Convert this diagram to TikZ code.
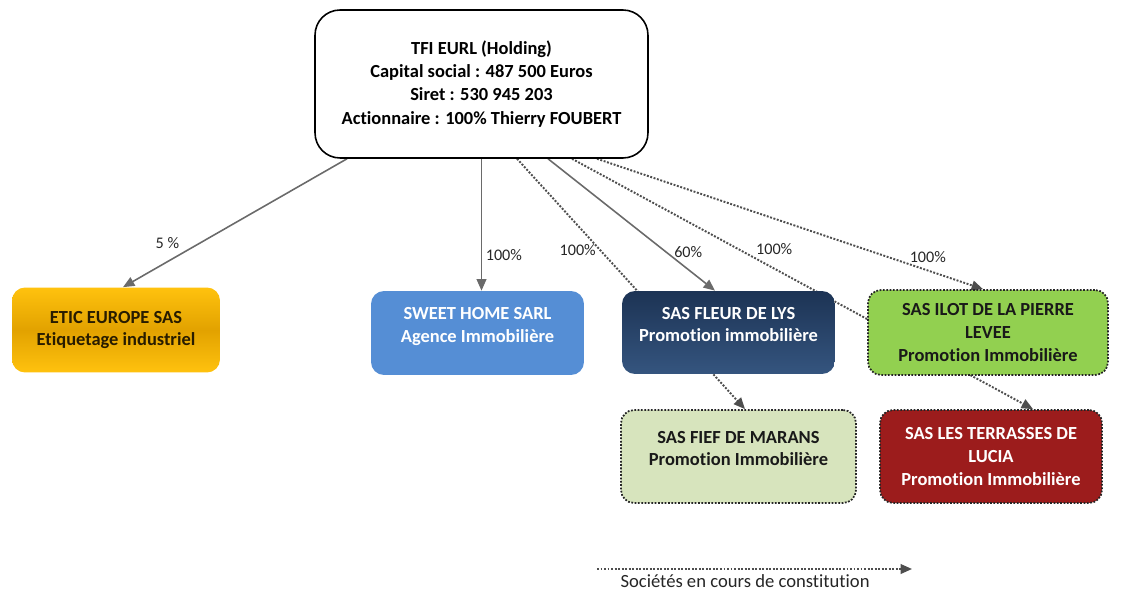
\documentclass[tikz,border=0pt]{standalone}
\usepackage{fontspec}
\setmainfont{Carlito}[Ligatures={NoCommon}]
\usetikzlibrary{arrows.meta,calc,backgrounds}

\definecolor{eticA}{HTML}{FFC20E}
\definecolor{eticB}{HTML}{E2A200}
\definecolor{sweetC}{HTML}{558ED5}
\definecolor{fleurA}{HTML}{1C3354}
\definecolor{fleurB}{HTML}{35557F}
\definecolor{ilotC}{HTML}{92D050}
\definecolor{fiefC}{HTML}{D7E4BD}
\definecolor{luciaC}{HTML}{9C1C1C}
\definecolor{linegray}{HTML}{6A6A6A}
\definecolor{dotgray}{HTML}{4E4E4E}

% pushes the text of a box a little upwards
\newcommand\lift{\rule[-0.32cm]{0pt}{0pt}}

\tikzset{
  box/.style={rounded corners=0.26cm, align=center, inner sep=2pt,
    font=\bfseries\fontsize{10.5}{13}\selectfont},
  dotframe/.style={draw=black!85, line width=1pt, dash pattern=on 1pt off 0.9pt},
  solidarr/.style={draw=linegray, line width=0.9pt, -{Triangle[length=6.5pt,width=5.5pt]}},
  dotarr/.style={draw=dotgray, line width=1.1pt, dash pattern=on 1.1pt off 0.9pt,
    -{Triangle[length=6.5pt,width=5.5pt]}},
  pct/.style={font=\fontsize{9.2}{11}\selectfont, inner sep=1pt, text=black!85},
}

\begin{document}
\begin{tikzpicture}[x=0.02cm,y=-0.02cm]
  \useasboundingbox (0,0) rectangle (1121,594);

  %%%%% boxes %%%%%
  \node[box, draw=black, fill=white, line width=0.9pt, rounded corners=0.5cm,
    minimum width=6.66cm, minimum height=2.96cm,
    font=\bfseries\fontsize{10.5}{13.2}\selectfont] (tfi) at (481.5,84)
    {TFI EURL (Holding)\\Capital social : 487 500 Euros\\Siret : 530 945 203\\Actionnaire : 100\% Thierry FOUBERT};

  \node[box, top color=eticA, bottom color=eticA, middle color=eticB, text={rgb,255:red,40;green,28;blue,0},
    minimum width=4.16cm, minimum height=1.7cm] (etic) at (116,330)
    {ETIC EUROPE SAS\\Etiquetage industriel};

  \node[box, fill=sweetC, text=white, minimum width=4.26cm, minimum height=1.68cm] (sweet) at (477.5,333)
    {SWEET HOME SARL\\Agence Immobilière\lift};

  \node[box, top color=fleurA, bottom color=fleurB, text=white,
    minimum width=4.26cm, minimum height=1.66cm] (fleur) at (728.5,332.5)
    {SAS FLEUR DE LYS\\Promotion immobilière\lift};

  \node[box, dotframe, fill=ilotC, text=black!90, minimum width=4.8cm, minimum height=1.7cm] (ilot) at (988,332.5)
    {SAS ILOT DE LA PIERRE\\LEVEE\\Promotion Immobilière};

  \node[box, dotframe, fill=fiefC, text=black!90, minimum width=4.7cm, minimum height=1.86cm] (fief) at (738.5,456.5)
    {SAS FIEF DE MARANS\\Promotion Immobilière\lift};

  \node[box, dotframe, fill=luciaC, text=white, minimum width=4.44cm, minimum height=1.86cm] (lucia) at (991,456.5)
    {SAS LES TERRASSES DE\\LUCIA\\Promotion Immobilière};

  %%%%% connectors (behind the boxes) %%%%%
  \begin{scope}[on background layer]
    \draw[solidarr] ($(tfi.south)+(-134.5,0)$) -- ($(etic.north)+(7,0)$)
      node[pct, pos=.66, left=0.35cm] {5 \%};
    \draw[solidarr] (tfi.south) -- (tfi.south |- sweet.north)
      node[pct, pos=.73, right=1pt] {100\%};
    \draw[dotarr] ($(tfi.south)+(35.5,0)$) -- ($(fief.north)+(6.5,0)$)
      node[pct, pos=.365, left=1pt] {100\%};
    \draw[solidarr] ($(tfi.south)+(66.5,0)$) -- ($(fleur.north)+(-13.5,0)$)
      node[pct, pos=.705, right=0.12cm] {60\%};
    \draw[dotarr] ($(tfi.south)+(90.5,0)$) -- ($(lucia.north)+(42,0)$)
      node[pct, pos=.361, right=0.3cm] {100\%};
    \draw[dotarr] ($(tfi.south)+(115.5,0)$) -- ($(ilot.north)+(-5,0)$)
      node[pct, pos=.857, above=3pt] {100\%};
  \end{scope}

  %%%%% legend %%%%%
  \coordinate (legA) at (597,569);
  \coordinate (legB) at (912,569);
  \draw[dotarr] (legA) -- (legB)
    node[pct, pos=.47, below=2pt, inner sep=0.5pt, font=\fontsize{10.6}{12}\selectfont] {Sociétés en cours de constitution};
\end{tikzpicture}
\end{document}
